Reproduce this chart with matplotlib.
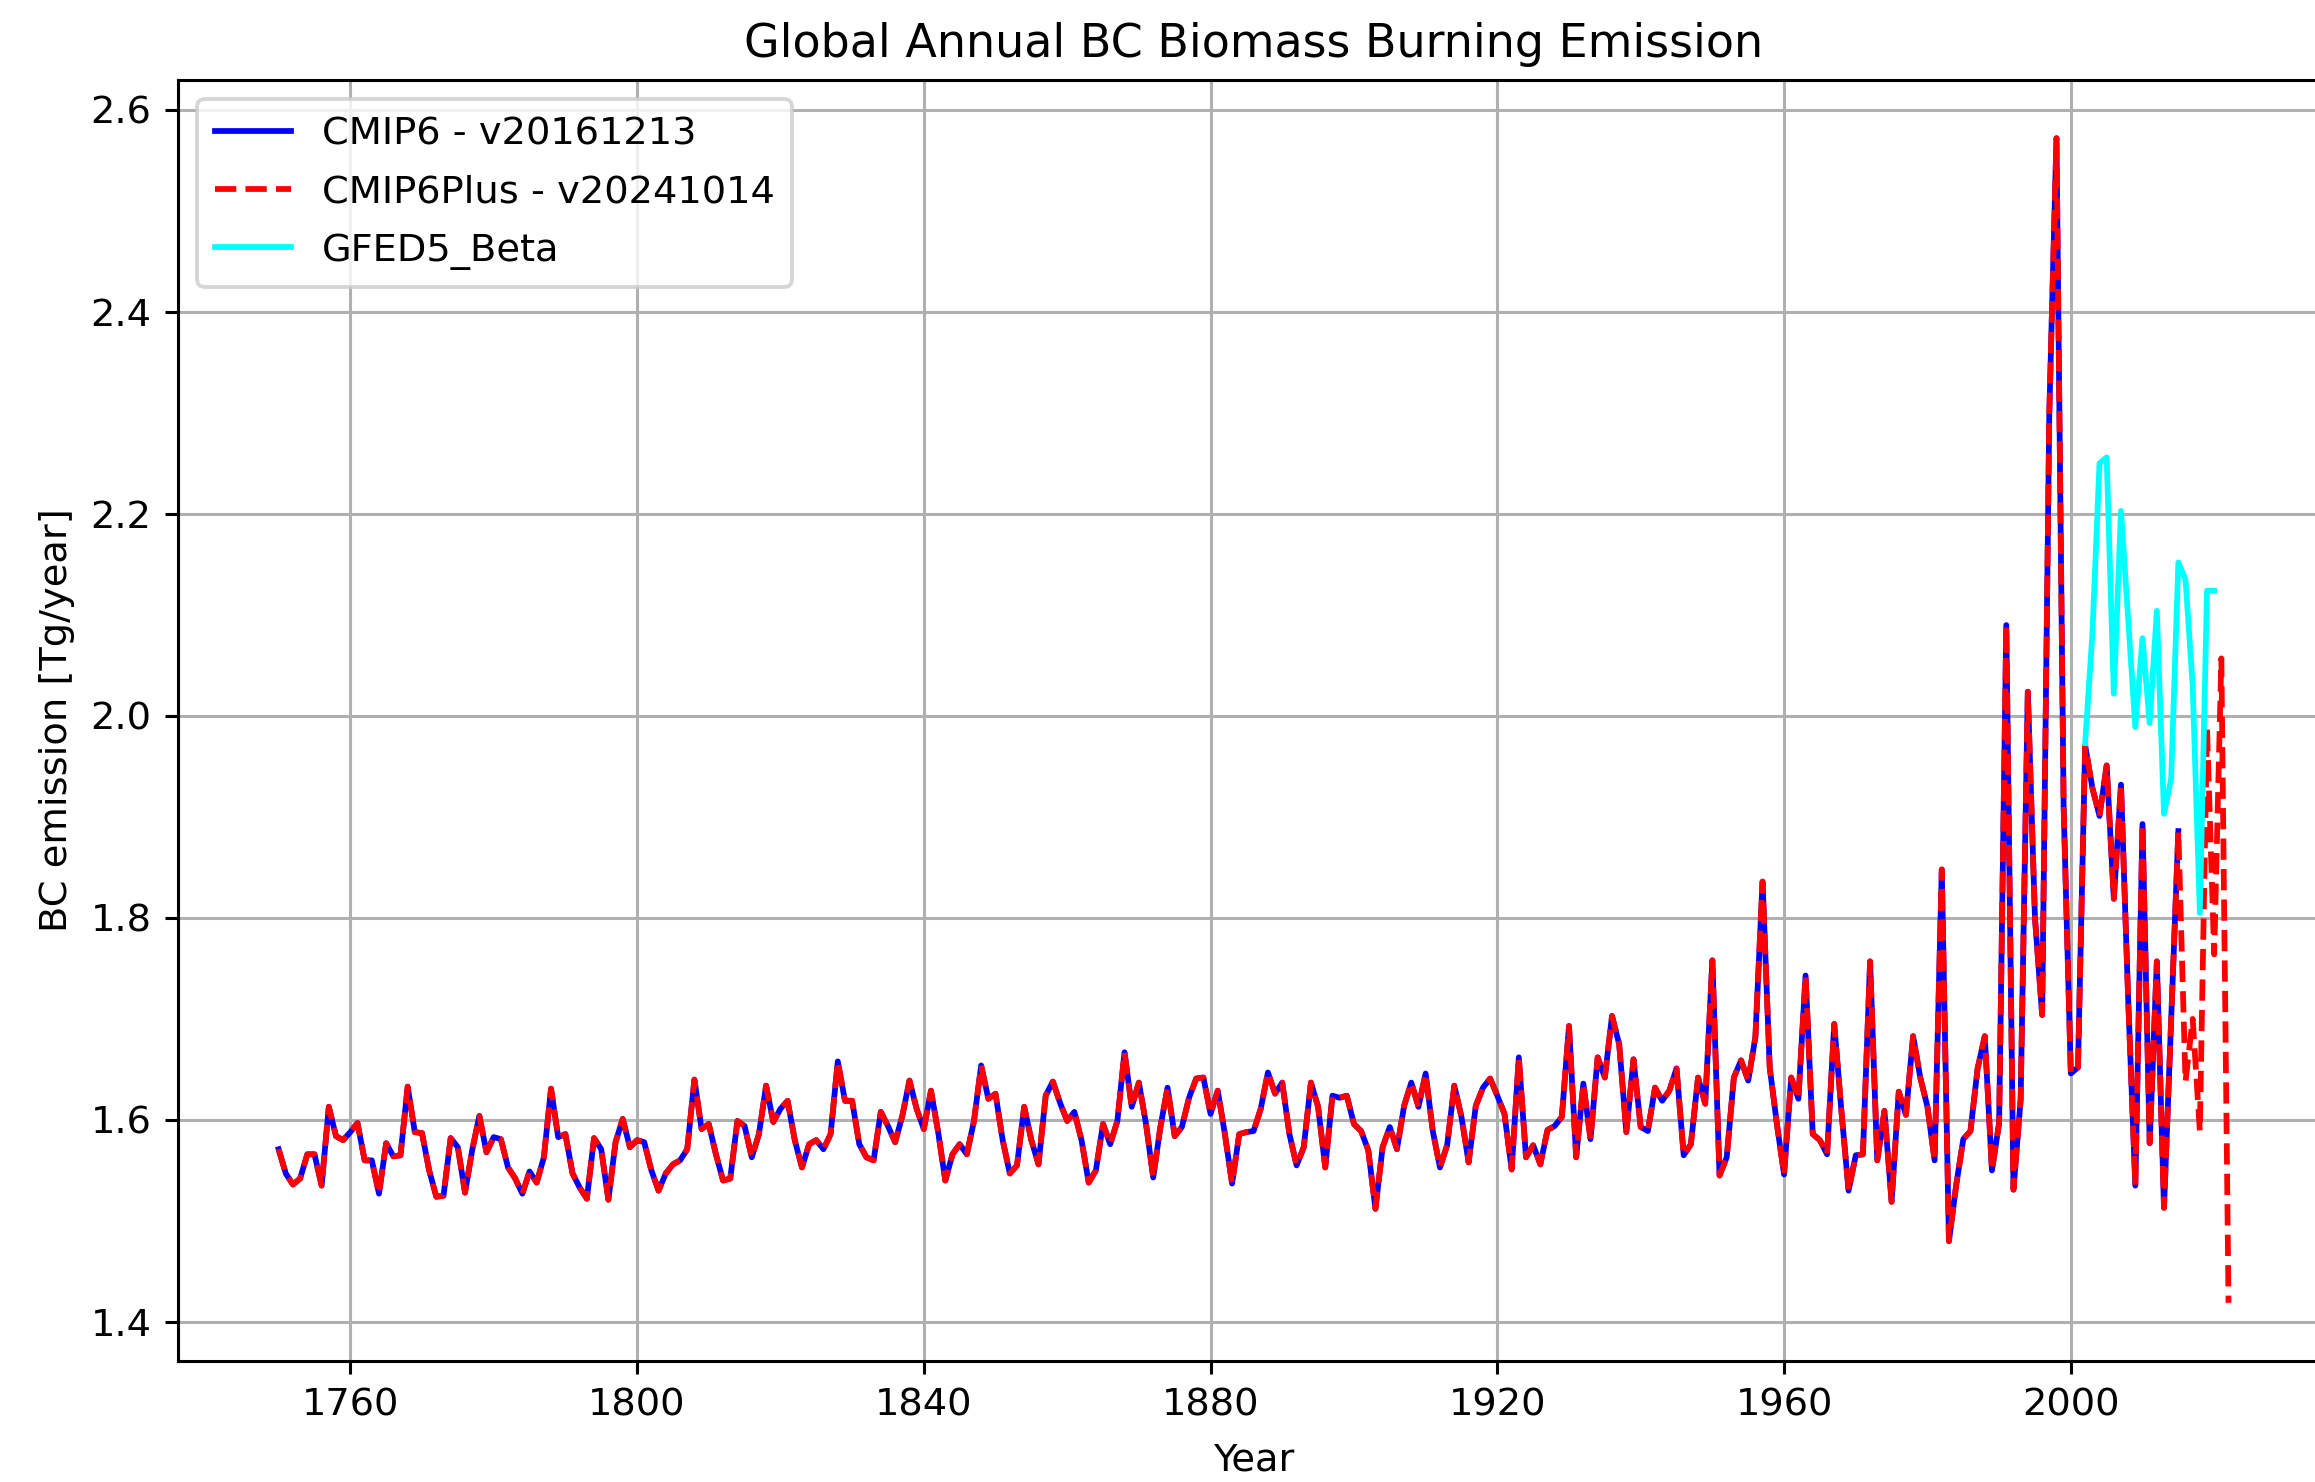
import numpy as np
from matplotlib import pyplot as plt
from matplotlib.ticker import MultipleLocator

# annual global BC emission from biomass burning [Tg/year]
years_cmip6 = np.arange(1750, 2016)
bc_cmip6 = [
    1.571, 1.547, 1.536, 1.542, 1.566, 1.566, 1.535, 1.613, 1.584, 1.580,  # 1750s
    1.588, 1.597, 1.560, 1.560, 1.527, 1.577, 1.564, 1.565, 1.633, 1.588,  # 1760s
    1.587, 1.550, 1.524, 1.525, 1.582, 1.573, 1.528, 1.570, 1.604, 1.568,  # 1770s
    1.583, 1.581, 1.553, 1.542, 1.527, 1.549, 1.538, 1.563, 1.631, 1.583,  # 1780s
    1.586, 1.547, 1.533, 1.522, 1.582, 1.571, 1.521, 1.578, 1.601, 1.573,  # 1790s
    1.580, 1.578, 1.550, 1.530, 1.547, 1.556, 1.560, 1.571, 1.640, 1.591,  # 1800s
    1.596, 1.566, 1.540, 1.542, 1.599, 1.594, 1.563, 1.586, 1.634, 1.598,  # 1810s
    1.611, 1.619, 1.580, 1.553, 1.576, 1.580, 1.571, 1.586, 1.658, 1.619,  # 1820s
    1.619, 1.576, 1.563, 1.560, 1.608, 1.594, 1.578, 1.604, 1.639, 1.611,  # 1830s
    1.591, 1.629, 1.588, 1.540, 1.566, 1.576, 1.566, 1.599, 1.654, 1.621,  # 1840s
    1.626, 1.580, 1.547, 1.555, 1.613, 1.580, 1.556, 1.624, 1.638, 1.617,  # 1850s
    1.599, 1.608, 1.580, 1.538, 1.550, 1.596, 1.576, 1.599, 1.667, 1.613,  # 1860s
    1.637, 1.596, 1.543, 1.593, 1.632, 1.584, 1.593, 1.622, 1.641, 1.642,  # 1870s
    1.606, 1.629, 1.586, 1.537, 1.586, 1.588, 1.589, 1.611, 1.647, 1.626,  # 1880s
    1.637, 1.586, 1.555, 1.573, 1.637, 1.613, 1.553, 1.624, 1.622, 1.624,  # 1890s
    1.596, 1.589, 1.570, 1.512, 1.573, 1.593, 1.571, 1.614, 1.637, 1.613,  # 1900s
    1.646, 1.589, 1.553, 1.575, 1.634, 1.603, 1.558, 1.614, 1.632, 1.641,  # 1910s
    1.624, 1.606, 1.551, 1.662, 1.563, 1.575, 1.556, 1.590, 1.594, 1.603,  # 1920s
    1.693, 1.563, 1.636, 1.581, 1.662, 1.642, 1.703, 1.675, 1.588, 1.660,  # 1930s
    1.593, 1.589, 1.632, 1.619, 1.629, 1.651, 1.565, 1.576, 1.642, 1.616,  # 1940s
    1.758, 1.545, 1.563, 1.642, 1.659, 1.639, 1.682, 1.836, 1.652, 1.596,  # 1950s
    1.546, 1.642, 1.621, 1.743, 1.586, 1.580, 1.566, 1.695, 1.609, 1.530,  # 1960s
    1.565, 1.566, 1.757, 1.560, 1.609, 1.519, 1.628, 1.605, 1.683, 1.642,  # 1970s
    1.613, 1.560, 1.848, 1.480, 1.535, 1.581, 1.589, 1.651, 1.683, 1.550,  # 1980s
    1.597, 2.090, 1.531, 1.620, 2.024, 1.800, 1.704, 2.300, 2.572, 1.910,  # 1990s
    1.646, 1.652, 1.971, 1.929, 1.901, 1.951, 1.819, 1.932, 1.720, 1.535,  # 2000s
    1.893, 1.577, 1.757, 1.513, 1.700, 1.886,                              # 2010-2015
]

years_plus = np.arange(1750, 2023)
bc_plus_ext = [1.638, 1.700, 1.589, 1.988, 1.764, 2.057, 1.419]  # 2016-2022
bc_plus = bc_cmip6 + bc_plus_ext

years_gfed = np.arange(2002, 2021)
bc_gfed = [1.973, 2.080, 2.250, 2.256, 2.022, 2.203, 2.096, 1.989, 2.077, 1.993,
           2.104, 1.903, 1.938, 2.152, 2.135, 2.030, 1.805, 2.124, 2.124]

dpi = 276
fig = plt.figure(figsize=(2315 / dpi, 1482 / dpi), dpi=dpi)
# axes runs a little past the right edge, as in the (cropped) original
ax = fig.add_axes([0.07700, 0.08165, 0.92900, 0.86437])

ax.plot(years_cmip6, bc_cmip6, color='blue', label='CMIP6 - v20161213')
ax.plot(years_plus, bc_plus, color='red', linestyle='--', label='CMIP6Plus - v20241014')
ax.plot(years_gfed, bc_gfed, color='cyan', label='GFED5_Beta')

ax.set_xlim(1736, 2036)
ax.xaxis.set_major_locator(MultipleLocator(40))
ax.set_title('Global Annual BC Biomass Burning Emission')
ax.set_xlabel('Year', labelpad=5)
ax.set_ylabel('BC emission [Tg/year]')
ax.grid(True)
ax.legend(loc='upper left', labelspacing=0.58, borderpad=0.45)

fig.savefig('out.png', dpi=dpi)
